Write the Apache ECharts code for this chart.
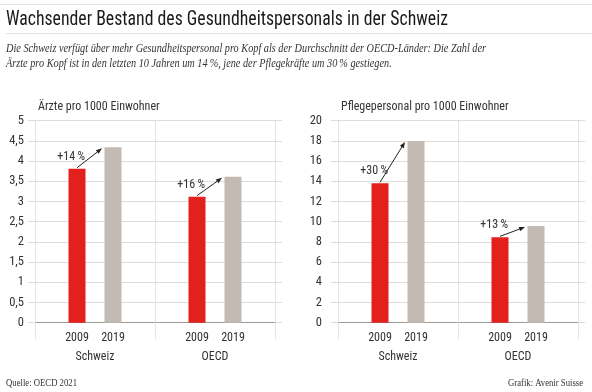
<!DOCTYPE html>
<html><head><meta charset="utf-8">
<script src="https://cdn.jsdelivr.net/npm/echarts@6/dist/echarts.min.js"></script>
<style>html,body{margin:0;padding:0;background:#fff}#c{width:592px;height:392px}</style>
</head><body><div id="c"></div>
<script>
// ---- data ----
const groups = ['Schweiz', 'OECD'];
const years = ['2009', '2019'];
const aerzte2009 = [3.81, 3.12];
const aerzte2019 = [4.34, 3.61];
const pflege2009 = [13.8, 8.45];
const pflege2019 = [18.0, 9.57];
const aerzteChange = ['+14\u2009%', '+16\u2009%'];
const pflegeChange = ['+30\u2009%', '+13\u2009%'];
const aerzteAxis = { min: 0, max: 5, interval: 0.5 };
const pflegeAxis = { min: 0, max: 20, interval: 2 };
const panelNames = ['Ärzte pro 1000 Einwohner', 'Pflegepersonal pro 1000 Einwohner'];
const titleText = 'Wachsender Bestand des Gesundheitspersonals in der Schweiz';
const subLines = [
  'Die Schweiz verfügt über mehr Gesundheitspersonal pro Kopf als der Durchschnitt der OECD-Länder: Die Zahl der',
  'Ärzte pro Kopf ist in den letzten 10 Jahren um 14\u2009%, jene der Pflegekräfte um 30\u2009% gestiegen.'
];
const sourceText = 'Quelle: OECD 2021';
const creditText = 'Grafik: Avenir Suisse';

// ---- style ----
const SANS = '"Roboto Condensed","Roboto",sans-serif';
const SERIF = '"Liberation Serif","DejaVu Serif",serif';
const RED = '#e2211c', GREY = '#c2bab3', TXT = '#333333', GRID = '#dcdcdc', VLINE = '#e4e4e4';
const BAR_W = 17, BAR_GAP_PX = 19;

const chart = echarts.init(document.getElementById('c'), null, { renderer: 'canvas' });

const ctx = document.createElement('canvas').getContext('2d');
function fitScale(text, font, target) { ctx.font = font; return target / ctx.measureText(text).width; }

const grids = [
  { left: 35, right: 317, top: 120.7, bottom: 69.3 },
  { left: 338, right: 14, top: 120.7, bottom: 69.3 }
];
const axisDefs = [aerzteAxis, pflegeAxis];
const xAxes = [], yAxes = [], series = [];
const labelMargins = [11, 16];
[0, 1].forEach(g => {
  xAxes.push({
    type: 'category', gridIndex: g, data: groups, position: 'bottom',
    axisLine: { show: true, lineStyle: { color: '#9a9a9a', width: 1 } },
    axisTick: { show: true, length: 17, lineStyle: { color: VLINE } },
    axisLabel: { margin: 28, fontFamily: SANS, fontSize: 12, color: TXT },
    splitLine: { show: true, lineStyle: { color: VLINE } }
  });
  xAxes.push({
    type: 'category', gridIndex: g, data: groups, position: 'top',
    axisLine: { show: false },
    axisTick: { show: true, length: 24, lineStyle: { color: VLINE } },
    axisLabel: { show: false }, splitLine: { show: false }
  });
  const ad = axisDefs[g];
  yAxes.push({
    type: 'value', gridIndex: g, min: ad.min, max: ad.max, interval: ad.interval, position: 'left',
    name: panelNames[g], nameLocation: 'end', nameGap: 14,
    nameTextStyle: { align: 'left', verticalAlign: 'middle', fontFamily: SANS, fontSize: 12, color: TXT, padding: [0, 0, 0, 3] },
    axisLine: { show: false },
    axisTick: { show: true, length: 7, lineStyle: { color: GRID } },
    axisLabel: { margin: labelMargins[g], fontFamily: SANS, fontSize: 12.5, color: TXT,
      formatter: v => String(v).replace('.', ',') },
    splitLine: { show: true, lineStyle: { color: GRID } }
  });
  yAxes.push({
    type: 'value', gridIndex: g, min: ad.min, max: ad.max, interval: ad.interval, position: 'right',
    axisLine: { show: false },
    axisTick: { show: true, length: 7, lineStyle: { color: GRID } },
    axisLabel: { show: false }, splitLine: { show: false }
  });
  const vals = g === 0 ? [aerzte2009, aerzte2019] : [pflege2009, pflege2019];
  [0, 1].forEach(k => {
    series.push({
      type: 'bar', name: years[k], xAxisIndex: g * 2, yAxisIndex: g * 2,
      data: vals[k], barWidth: BAR_W, barGap: (BAR_GAP_PX / BAR_W * 100) + '%',
      itemStyle: { color: k === 0 ? RED : GREY },
      label: { show: true, position: 'bottom', distance: 9, formatter: years[k],
        fontFamily: SANS, fontSize: 12, color: TXT },
      silent: true, animation: false
    });
  });
});

chart.setOption({
  animation: false,
  backgroundColor: '#fff',
  grid: grids, xAxis: xAxes, yAxis: yAxes, series: series
});

// ---- annotations & texts ----
const gfx = [];
gfx.push({ type: 'line', shape: { x1: 0, y1: 4.5, x2: 592, y2: 4.5 }, style: { stroke: '#e3e3e3', lineWidth: 1 } });
gfx.push({ type: 'line', shape: { x1: 6, y1: 33.5, x2: 592, y2: 33.5 }, style: { stroke: '#e3e3e3', lineWidth: 1 } });
const titleFont = '21px ' + SANS;
gfx.push({ type: 'text', x: 6, y: 20, scaleX: fitScale(titleText, titleFont, 442),
  style: { text: titleText, font: titleFont, fill: '#1a1a1a', textVerticalAlign: 'middle' } });
const subFont = 'italic 13px ' + SERIF;
const subScale = fitScale(subLines[0], subFont, 480);
subLines.forEach((t, i) => gfx.push({ type: 'text', x: 6, y: 49 + i * 15, scaleX: subScale,
  style: { text: t, font: subFont, fill: '#333', textVerticalAlign: 'middle' } }));
const footFont = '11px ' + SERIF;
gfx.push({ type: 'text', x: 6, y: 383, scaleX: fitScale(sourceText, footFont, 71),
  style: { text: sourceText, font: footFont, fill: '#333', textVerticalAlign: 'middle' } });
gfx.push({ type: 'text', x: 583, y: 383, scaleX: fitScale(creditText, footFont, 75),
  style: { text: creditText, font: footFont, fill: '#333', textVerticalAlign: 'middle', textAlign: 'right' } });

// arrows computed from the axes
const half = (BAR_W + BAR_GAP_PX) / 2;
[0, 1].forEach(g => {
  const v09 = g === 0 ? aerzte2009 : pflege2009;
  const v19 = g === 0 ? aerzte2019 : pflege2019;
  const lab = g === 0 ? aerzteChange : pflegeChange;
  groups.forEach((grp, j) => {
    const a = chart.convertToPixel({ xAxisIndex: g * 2, yAxisIndex: g * 2 }, [j, v09[j]]);
    const b = chart.convertToPixel({ xAxisIndex: g * 2, yAxisIndex: g * 2 }, [j, v19[j]]);
    const sx = a[0] - half, sy = a[1] - 1;
    const ex = b[0] + half - BAR_W / 2 - 2.5, ey = b[1] + 1;
    const ang = Math.atan2(ey - sy, ex - sx);
    const L = 6, W = 2.3;
    const bx = ex - L * Math.cos(ang), by = ey - L * Math.sin(ang);
    gfx.push({ type: 'line', shape: { x1: sx, y1: sy, x2: bx, y2: by }, style: { stroke: '#222', lineWidth: 1 } });
    gfx.push({ type: 'polygon', shape: { points: [[ex, ey],
      [bx + W * Math.sin(ang), by - W * Math.cos(ang)], [bx - W * Math.sin(ang), by + W * Math.cos(ang)]] },
      style: { fill: '#222' } });
    gfx.push({ type: 'text', x: sx + 8, y: sy - 11,
      style: { text: lab[j], font: '12px ' + SANS, fill: TXT, textAlign: 'right', textVerticalAlign: 'middle' } });
  });
});
chart.setOption({ graphic: { elements: gfx } });
</script></body></html>
